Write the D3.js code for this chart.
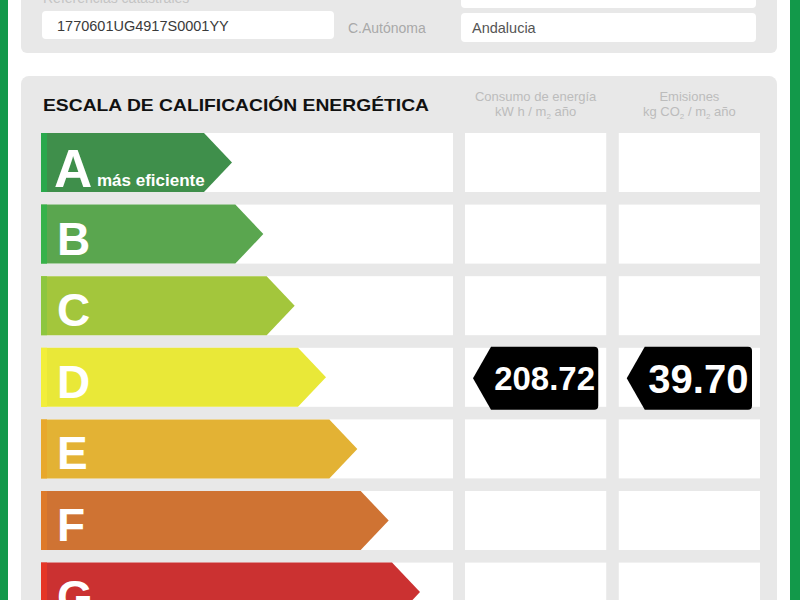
<!DOCTYPE html>
<html><head><meta charset="utf-8">
<script src="https://cdn.jsdelivr.net/npm/d3@7/dist/d3.min.js"></script>
<style>html,body{margin:0;padding:0;background:#fff;}svg{display:block;font-family:"Liberation Sans",Arial,Helvetica,sans-serif;}</style>
</head><body>
<svg id="c" width="800" height="600"></svg>
<script>
// ---- data ----
const categories = ["A","B","C","D","E","F","G"];
const barColors = ["#3f8f4b","#5aa64f","#a3c63c","#e9e838","#e3b234","#cf7333","#cb3131"];
const stripeColors = ["#2aa84c","#36b24a","#8dc63f","#f2ee3a","#e8a82c","#de7a2a","#e53526"];
const bestLabel = "más eficiente";
const worstLabel = "menos eficiente";
const consumoValues = [208.72];
const consumoClass = ["D"];
const emisionesValues = [39.70];
const emisionesClass = ["D"];
const refCatastral = "1770601UG4917S0001YY";
const comunidad = "Andalucia";

const svg = d3.select("#c");
const gray = "#e8e8e8";

// outer green frame
svg.append("rect").attr("x",0).attr("y",-10).attr("width",8).attr("height",620).attr("fill","#12994a");
svg.append("rect").attr("x",790).attr("y",-10).attr("width",10).attr("height",620).attr("fill","#12994a");

// top panel
svg.append("rect").attr("x",21).attr("y",-20).attr("width",756).attr("height",73).attr("rx",6).attr("fill",gray);
svg.append("text").attr("x",43).attr("y",3).attr("font-size",14).attr("fill","#c4c4c4").text("Referencias catastrales");
svg.append("rect").attr("x",42).attr("y",11).attr("width",292).attr("height",28).attr("rx",4).attr("fill","#fff");
svg.append("text").attr("x",57).attr("y",31).attr("font-size",14.5).attr("fill","#3a3a3a").text(refCatastral);
svg.append("text").attr("x",348).attr("y",33).attr("font-size",14).attr("fill","#a9a9a9").text("C.Autónoma");
svg.append("rect").attr("x",461).attr("y",-20).attr("width",295).attr("height",28).attr("rx",4).attr("fill","#fff");
svg.append("rect").attr("x",461).attr("y",13).attr("width",295).attr("height",29).attr("rx",4).attr("fill","#fff");
svg.append("text").attr("x",472).attr("y",33).attr("font-size",14.5).attr("fill","#555").text(comunidad);

// main panel
svg.append("rect").attr("x",21).attr("y",76).attr("width",756).attr("height",560).attr("rx",8).attr("fill",gray);
svg.append("text").attr("x",43).attr("y",111).attr("font-size",17).attr("font-weight","bold").attr("fill","#111")
  .attr("textLength",386).attr("lengthAdjust","spacingAndGlyphs").text("ESCALA DE CALIFICACIÓN ENERGÉTICA");

// column scales
const cols = ["consumo","emisiones"];
const x = d3.scaleBand().domain(cols).range([465,760]).paddingInner(12/295*2);
const y = d3.scaleBand().domain(categories).range([133, 133 + 6*71.6 + 59]).paddingInner(12.6/71.6).paddingOuter(0);
const tip = d3.scaleLinear().domain([0,categories.length-1]).range([232,420]);

// headers
const hdr = [
  {c:"consumo", l1:"Consumo de energía", l2:[["kW h / m",0],["2",1],[" año",0]]},
  {c:"emisiones", l1:"Emisiones", l2:[["kg CO",0],["2",1],[" / m",0],["2",1],[" año",0]]}
];
hdr.forEach(h=>{
  const cx = x(h.c)+x.bandwidth()/2;
  svg.append("text").attr("x",cx).attr("y",101).attr("text-anchor","middle").attr("font-size",13).attr("fill","#bcbcbc").text(h.l1);
  const t = svg.append("text").attr("x",cx).attr("y",116).attr("text-anchor","middle").attr("font-size",13).attr("fill","#bcbcbc");
  h.l2.forEach(([s,sub],i)=>{
    const ts = t.append("tspan").text(s);
    if(sub){ts.attr("font-size",8).attr("dy",3);}
    else if(i>0 && h.l2[i-1][1]){ts.attr("dy",-3);}
  });
});

// rows
const rows = svg.append("g").selectAll("g").data(categories).join("g");
rows.append("rect").attr("x",41).attr("y",d=>y(d)).attr("width",412).attr("height",y.bandwidth()).attr("fill","#fff");
cols.forEach(c=>{
  rows.append("rect").attr("x",x(c)).attr("y",d=>y(d)).attr("width",x.bandwidth()).attr("height",y.bandwidth()).attr("fill","#fff");
});
const arrow = (d,i)=>{
  const t0=y(d), h=y.bandwidth(), tx=tip(i), bx=tx-28;
  return `M41,${t0}H${bx}L${tx},${t0+h/2}L${bx},${t0+h}H41Z`;
};
rows.append("path").attr("d",arrow).attr("fill",(d,i)=>barColors[i]);
rows.append("rect").attr("x",41).attr("y",d=>y(d)).attr("width",6).attr("height",y.bandwidth()).attr("fill",(d,i)=>stripeColors[i]);
rows.append("text").attr("x",(d,i)=>i===0?54:57).attr("y",(d,i)=>y(d)+(i===0?54:50))
  .attr("font-size",(d,i)=>i===0?53:46).attr("font-weight","bold").attr("fill","#fff").text(d=>d);
rows.filter((d,i)=>i===0).append("text").attr("x",97).attr("y",d=>y(d)+53).attr("font-size",17).attr("font-weight","bold").attr("fill","#fff").text(bestLabel);
rows.filter((d,i)=>i===categories.length-1).append("text").attr("x",97).attr("y",d=>y(d)+53).attr("font-size",17).attr("font-weight","bold").attr("fill","#fff").text(worstLabel);

// value tags
const fmt = d3.format(".2f");
function tag(col, cls, val, fs){
  const t0=y(cls)-1, b0=y(cls)+y.bandwidth()+3, cy=(t0+b0)/2;
  const x0=x(col)+8, bx=x0+18, r1=x(col)+x.bandwidth()-8, r=4;
  svg.append("path").attr("d",`M${x0},${cy}L${bx},${t0}H${r1-r}Q${r1},${t0} ${r1},${t0+r}V${b0-r}Q${r1},${b0} ${r1-r},${b0}H${bx}Z`).attr("fill","#000");
  svg.append("text").attr("x",(bx+r1)/2).attr("y",cy+ fs*0.36).attr("text-anchor","middle").attr("font-size",fs).attr("font-weight","bold").attr("fill","#fff").text(fmt(val));
}
tag("consumo", consumoClass[0], consumoValues[0], 33);
tag("emisiones", emisionesClass[0], emisionesValues[0], 40);
</script>
</body></html>
